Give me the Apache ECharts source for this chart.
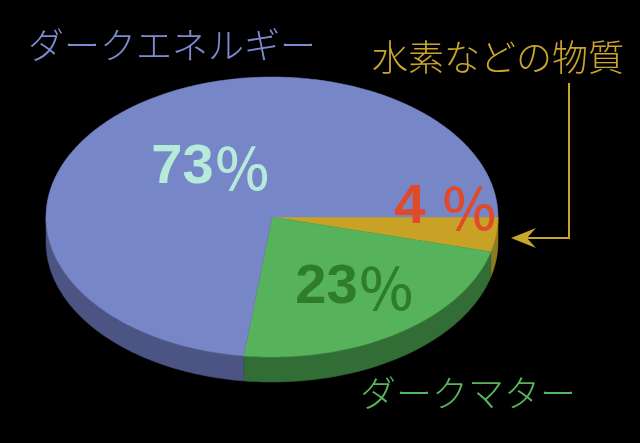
<!DOCTYPE html>
<html>
<head>
<meta charset="utf-8">
<script src="https://cdn.jsdelivr.net/npm/echarts@6/dist/echarts.min.js"></script>
<style>
html,body{margin:0;padding:0;background:#000;}
#main{width:640px;height:443px;}
</style>
</head>
<body>
<div id="main"></div>
<script>
const categories = ['水素などの物質', 'ダークマター', 'ダークエネルギー'];
const values = [4, 23, 73];
const labelTexts = ['4 ％', '23％', '73％'];
const topColors = ['#c8a224', '#56b25b', '#7786c6'];
const sideColors = ['#8f7a1f', '#336d36', '#4b5482'];
const labelColors = ['#e04a2a', '#2f7d29', '#b6ebdc'];
const nameColors = ['#c9a52a', '#58b55c', '#7d8bd0'];

const CX = 272, CY = 217, RX = 226, RY = 140, DEPTH = 25;

function arc(a, b, dy) {
  const pts = [];
  const n = Math.max(2, Math.ceil(Math.abs(b - a) / (Math.PI / 180)));
  for (let k = 0; k <= n; k++) {
    const t = a + (b - a) * k / n;
    pts.push([CX + RX * Math.cos(t), CY + dy + RY * Math.sin(t)]);
  }
  return pts;
}

function renderItem(params, api) {
  const i = params.dataIndex;
  const total = values.reduce((s, v) => s + v, 0);
  let start = 0;
  for (let k = 0; k < i; k++) start += values[k];
  const a0 = start / total * 2 * Math.PI;
  const a1 = (start + api.value(0)) / total * 2 * Math.PI;
  const children = [];
  const s = Math.max(a0, 0), e = Math.min(a1, Math.PI);
  if (e > s) {
    const pts = arc(s, e, 0).concat(arc(e, s, DEPTH));
    children.push({
      type: 'polygon', z2: 1,
      shape: { points: pts },
      style: { fill: sideColors[i], stroke: sideColors[i], lineWidth: 0.5 }
    });
  }
  const topPts = [[CX, CY]].concat(arc(a0, a1, 0));
  children.push({
    type: 'polygon', z2: 10,
    shape: { points: topPts },
    style: { fill: topColors[i], stroke: topColors[i], lineWidth: 0.5 }
  });
  return { type: 'group', children: children };
}

const chart = echarts.init(document.getElementById('main'), null, { renderer: 'canvas' });
const jp = '"Noto Sans CJK JP", sans-serif';

function pctLabel(i, x, y) {
  const t = labelTexts[i];
  const numPart = t.replace('％', '');
  return {
    type: 'text', x: x, y: y, z: 100,
    style: {
      text: '{n|' + numPart + '}{p|％}',
      textAlign: 'center', textVerticalAlign: 'middle',
      rich: {
        n: { fill: labelColors[i], fontFamily: '"Liberation Sans", sans-serif', fontWeight: 'bold', fontSize: 56 },
        p: { fill: labelColors[i], fontFamily: '"Noto Sans CJK JP", sans-serif', fontWeight: 500, fontSize: 57 }
      }
    }
  };
}

chart.setOption({
  backgroundColor: '#000',
  animation: false,
  series: [{
    type: 'custom',
    coordinateSystem: 'none',
    renderItem: renderItem,
    data: values.map((v, i) => ({ name: categories[i], value: v }))
  }],
  graphic: [
    { type: 'text', left: 28, top: 27, z: 100, style: { text: categories[2], fill: nameColors[2], font: '300 36px ' + jp } },
    { type: 'text', left: 372, top: 39, z: 100, style: { text: categories[0], fill: nameColors[0], font: '300 36px ' + jp } },
    { type: 'text', left: 360, top: 375, z: 100, style: { text: categories[1], fill: nameColors[1], font: '300 36px ' + jp } },
    pctLabel(2, 211, 168),
    pctLabel(1, 355, 288),
    pctLabel(0, 446, 208),
    { type: 'polyline', z: 100, shape: { points: [[569, 83], [569, 238], [522, 238]] }, style: { stroke: nameColors[0], lineWidth: 2, fill: null } },
    { type: 'polygon', z: 100, shape: { points: [[511, 238], [536, 228], [527, 238], [536, 248]] }, style: { fill: nameColors[0] } }
  ]
});
</script>
</body>
</html>
